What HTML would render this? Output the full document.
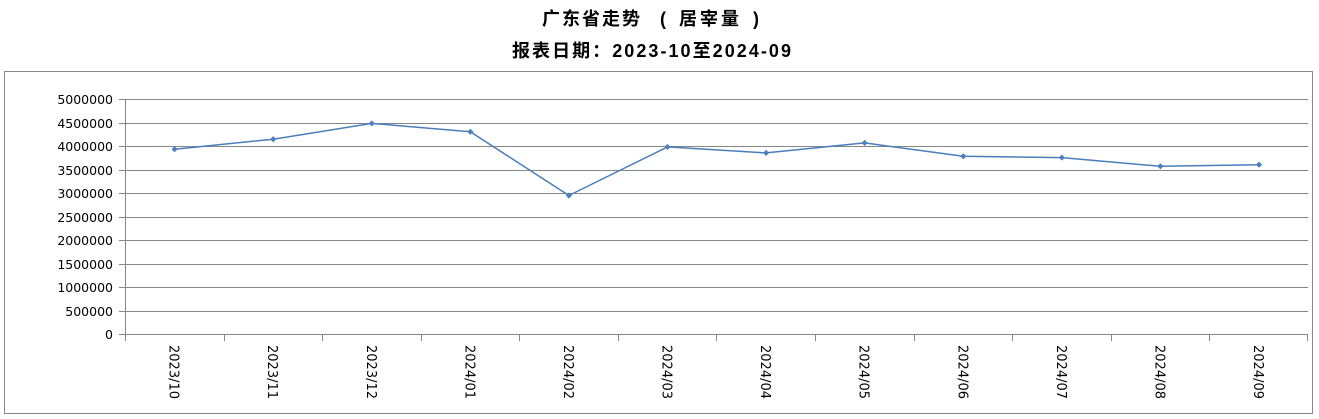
<!DOCTYPE html>
<html>
<head>
<meta charset="utf-8">
<style>
  html, body { margin: 0; padding: 0; background: #ffffff; }
  body { width: 1319px; height: 419px; overflow: hidden; }
  svg { display: block; }
  .t { font-family: "Liberation Sans", "Noto Sans CJK SC", "WenQuanYi Zen Hei", sans-serif; font-weight: bold; font-size: 18px; fill: #000; }
  .yl { font-family: "DejaVu Sans", "Liberation Sans", sans-serif; font-size: 12.5px; fill: #000; }
  .xl { font-family: "DejaVu Sans", "Liberation Sans", sans-serif; font-size: 13px; fill: #000; }
</style>
</head>
<body>
<svg width="1319" height="419" viewBox="0 0 1319 419" xmlns="http://www.w3.org/2000/svg">
  <rect x="0" y="0" width="1319" height="419" fill="#ffffff"/>

  <!-- Titles -->
  <text class="t" y="25" x="542 562 582 602 622 660 670 679 700 721 745 753">广东省走势( 居宰量 )</text>
  <text class="t" y="57" x="512" textLength="279" lengthAdjust="spacing">报表日期：2023-10至2024-09</text>

  <!-- Outer frame -->
  <rect x="4.5" y="71.5" width="1308" height="342" fill="none" stroke="#888888" stroke-width="1"/>

  <!-- Gridlines -->
  <g stroke="#868686" stroke-width="1" shape-rendering="crispEdges">
    <line x1="119" y1="99.5" x2="1308" y2="99.5"/>
    <line x1="119" y1="123.5" x2="1308" y2="123.5"/>
    <line x1="119" y1="146.5" x2="1308" y2="146.5"/>
    <line x1="119" y1="170.5" x2="1308" y2="170.5"/>
    <line x1="119" y1="193.5" x2="1308" y2="193.5"/>
    <line x1="119" y1="217.5" x2="1308" y2="217.5"/>
    <line x1="119" y1="240.5" x2="1308" y2="240.5"/>
    <line x1="119" y1="264.5" x2="1308" y2="264.5"/>
    <line x1="119" y1="287.5" x2="1308" y2="287.5"/>
    <line x1="119" y1="311.5" x2="1308" y2="311.5"/>
    <line x1="119" y1="334.5" x2="1308" y2="334.5"/>
    <!-- y axis -->
    <line x1="125.5" y1="99" x2="125.5" y2="341"/>
    <!-- x ticks -->
    <line x1="224.5" y1="334" x2="224.5" y2="341"/>
    <line x1="322.5" y1="334" x2="322.5" y2="341"/>
    <line x1="421.5" y1="334" x2="421.5" y2="341"/>
    <line x1="519.5" y1="334" x2="519.5" y2="341"/>
    <line x1="618.5" y1="334" x2="618.5" y2="341"/>
    <line x1="716.5" y1="334" x2="716.5" y2="341"/>
    <line x1="815.5" y1="334" x2="815.5" y2="341"/>
    <line x1="914.5" y1="334" x2="914.5" y2="341"/>
    <line x1="1012.5" y1="334" x2="1012.5" y2="341"/>
    <line x1="1111.5" y1="334" x2="1111.5" y2="341"/>
    <line x1="1209.5" y1="334" x2="1209.5" y2="341"/>
    <line x1="1307.5" y1="334" x2="1307.5" y2="341"/>
  </g>

  <!-- Y labels -->
  <g class="yl" text-anchor="end">
    <text x="113" y="104">5000000</text>
    <text x="113" y="128">4500000</text>
    <text x="113" y="151">4000000</text>
    <text x="113" y="175">3500000</text>
    <text x="113" y="198">3000000</text>
    <text x="113" y="222">2500000</text>
    <text x="113" y="245">2000000</text>
    <text x="113" y="269">1500000</text>
    <text x="113" y="292">1000000</text>
    <text x="113" y="316">500000</text>
    <text x="113" y="339">0</text>
  </g>

  <!-- X labels (rotated) -->
  <g class="xl">
    <text transform="translate(169.6,345) rotate(90)">2023/10</text>
    <text transform="translate(268.2,345) rotate(90)">2023/11</text>
    <text transform="translate(366.8,345) rotate(90)">2023/12</text>
    <text transform="translate(465.3,345) rotate(90)">2024/01</text>
    <text transform="translate(563.9,345) rotate(90)">2024/02</text>
    <text transform="translate(662.5,345) rotate(90)">2024/03</text>
    <text transform="translate(761.1,345) rotate(90)">2024/04</text>
    <text transform="translate(859.7,345) rotate(90)">2024/05</text>
    <text transform="translate(958.3,345) rotate(90)">2024/06</text>
    <text transform="translate(1056.9,345) rotate(90)">2024/07</text>
    <text transform="translate(1155.4,345) rotate(90)">2024/08</text>
    <text transform="translate(1254.0,345) rotate(90)">2024/09</text>
  </g>

  <!-- Series line -->
  <polyline fill="none" stroke="#4a7ebb" stroke-width="1.5" stroke-linejoin="round"
    points="174.6,149.2 273.2,139.2 371.8,123.4 470.3,131.8 568.9,195.5 667.5,146.9 766.1,152.9 864.7,142.9 963.3,156.3 1061.9,157.6 1160.4,166.3 1259.0,164.7"/>

  <!-- Markers -->
  <g fill="#4f81bd" stroke="#4a7ebb" stroke-width="0.8">
    <path d="M174.6,146.7 L177.1,149.2 L174.6,151.7 L172.1,149.2 Z"/>
    <path d="M273.2,136.7 L275.7,139.2 L273.2,141.7 L270.7,139.2 Z"/>
    <path d="M371.8,120.9 L374.3,123.4 L371.8,125.9 L369.3,123.4 Z"/>
    <path d="M470.3,129.3 L472.8,131.8 L470.3,134.3 L467.8,131.8 Z"/>
    <path d="M568.9,193.0 L571.4,195.5 L568.9,198.0 L566.4,195.5 Z"/>
    <path d="M667.5,144.4 L670.0,146.9 L667.5,149.4 L665.0,146.9 Z"/>
    <path d="M766.1,150.4 L768.6,152.9 L766.1,155.4 L763.6,152.9 Z"/>
    <path d="M864.7,140.4 L867.2,142.9 L864.7,145.4 L862.2,142.9 Z"/>
    <path d="M963.3,153.8 L965.8,156.3 L963.3,158.8 L960.8,156.3 Z"/>
    <path d="M1061.9,155.1 L1064.4,157.6 L1061.9,160.1 L1059.4,157.6 Z"/>
    <path d="M1160.4,163.8 L1162.9,166.3 L1160.4,168.8 L1157.9,166.3 Z"/>
    <path d="M1259.0,162.2 L1261.5,164.7 L1259.0,167.2 L1256.5,164.7 Z"/>
  </g>
</svg>
</body>
</html>
